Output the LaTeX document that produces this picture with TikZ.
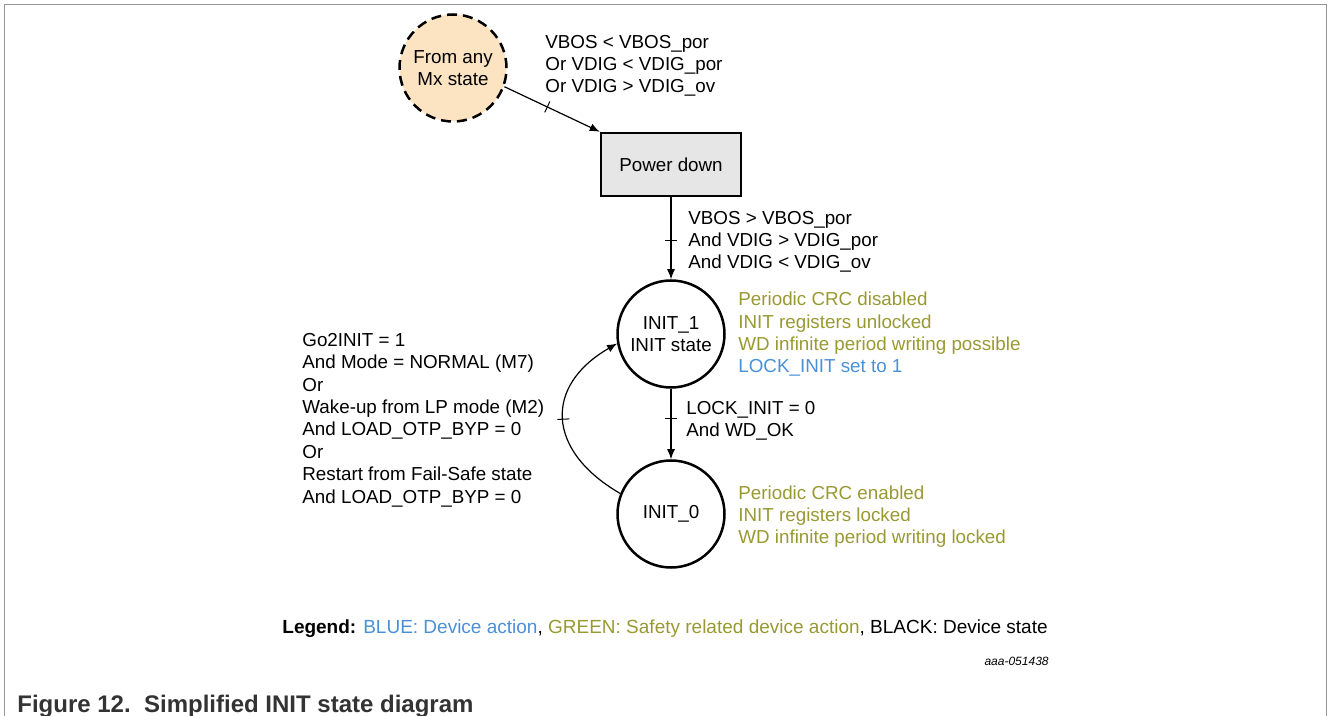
\documentclass[tikz,border=0pt]{standalone}
\usepackage{fontspec}
\setmainfont{Liberation Sans}
\usepackage{xcolor}
\usetikzlibrary{arrows.meta,positioning,decorations.markings}

\definecolor{safegreen}{RGB}{153,153,51}
\definecolor{actblue}{RGB}{74,144,214}
\definecolor{peach}{RGB}{252,228,194}
\definecolor{boxgray}{RGB}{230,230,230}
\definecolor{framegray}{RGB}{150,150,150}
\definecolor{captiongray}{RGB}{51,51,51}

\begin{document}
\begin{tikzpicture}[x=0.5pt,y=0.5pt,
  every node/.style={font=\fontsize{9.4}{11.2}\selectfont,inner sep=0pt},
  state/.style={draw,circle,line width=1.25pt,minimum size=53.5pt,align=center},
  origin/.style={state,dash pattern=on 5pt off 3pt,fill=peach},
  process/.style={draw,line width=1.25pt,fill=boxgray,minimum width=70pt,minimum height=31.5pt},
  cond/.style={align=left,anchor=base west},
  notes/.style={cond,text=safegreen},
  tick/.style={postaction={decorate,decoration={markings,
      mark=at position #1 with {\draw[-,line width=0.5pt] (0,-6) -- (0,6);}}}},
  trans/.style={-{Latex[length=5pt,width=4pt]},line width=0.6pt}]

    % frame
    \useasboundingbox (0,0) rectangle (1328,-716);
    \draw[framegray,line width=0.75pt] (4.5,-716) -- (4.5,-4.5) -- (1326.5,-4.5) -- (1326.5,-716);

    % states
    \node[origin] (mx) at (453,-68) {From any\\Mx state};
    \node[process] (pd) at (671,-164.5) {Power down};
    \node[state] (init1) at (671,-334) {INIT\_1\\INIT state};
    \node[state] (init0) at (671,-514) {INIT\_0};

    % transitions
    \draw[trans,tick=0.45] (mx.-20) -- (pd.north west);
    \draw[trans,tick=0.53] (pd) -- (init1);
    \draw[trans,tick=0.42] (init1) -- (init0);
    \draw[trans,tick=0.5] (init0.158) to[out=150,in=210,looseness=1.45] (init1.190);

    % conditions (base = last line)
    \node[cond] (porcond) at (545,-93) {VBOS < VBOS\_por\\Or VDIG < VDIG\_por\\Or VDIG > VDIG\_ov};
    \node[cond] (upcond) at (688,-269) {VBOS > VBOS\_por\\And VDIG > VDIG\_por\\And VDIG < VDIG\_ov};
    \node[cond] (lockcond) at (686,-437) {LOCK\_INIT = 0\\And WD\_OK};
    \node[cond] (backcond) at (302,-503) {Go2INIT = 1\\And Mode = NORMAL (M7)\\Or\\Wake-up from LP mode (M2)\\And LOAD\_OTP\_BYP = 0\\Or\\Restart from Fail-Safe state\\And LOAD\_OTP\_BYP = 0};

    % actions
    \node[notes] (init1notes) at (738,-373) {Periodic CRC disabled\\INIT registers unlocked\\WD infinite period writing possible\\\textcolor{actblue}{LOCK\_INIT set to 1}};
    \node[notes] (init0notes) at (738,-544) {Periodic CRC enabled\\INIT registers locked\\WD infinite period writing locked};

    % legend and caption
    \node[anchor=base west,font=\fontsize{9.5}{11.2}\selectfont] (legend) at (282,-633) {\textbf{Legend:} \textcolor{actblue}{BLUE: Device action}, \textcolor{safegreen}{GREEN: Safety related device action}, BLACK: Device state};
    \node[anchor=base east,font=\fontsize{6}{7}\selectfont\itshape] (figid) at (1049,-665) {aaa-051438};
    \node[anchor=base west,font=\fontsize{12}{14}\selectfont\bfseries,text=captiongray] (caption) at (17,-712) {Figure 12.\ \ Simplified INIT state diagram};
\end{tikzpicture}
\end{document}
